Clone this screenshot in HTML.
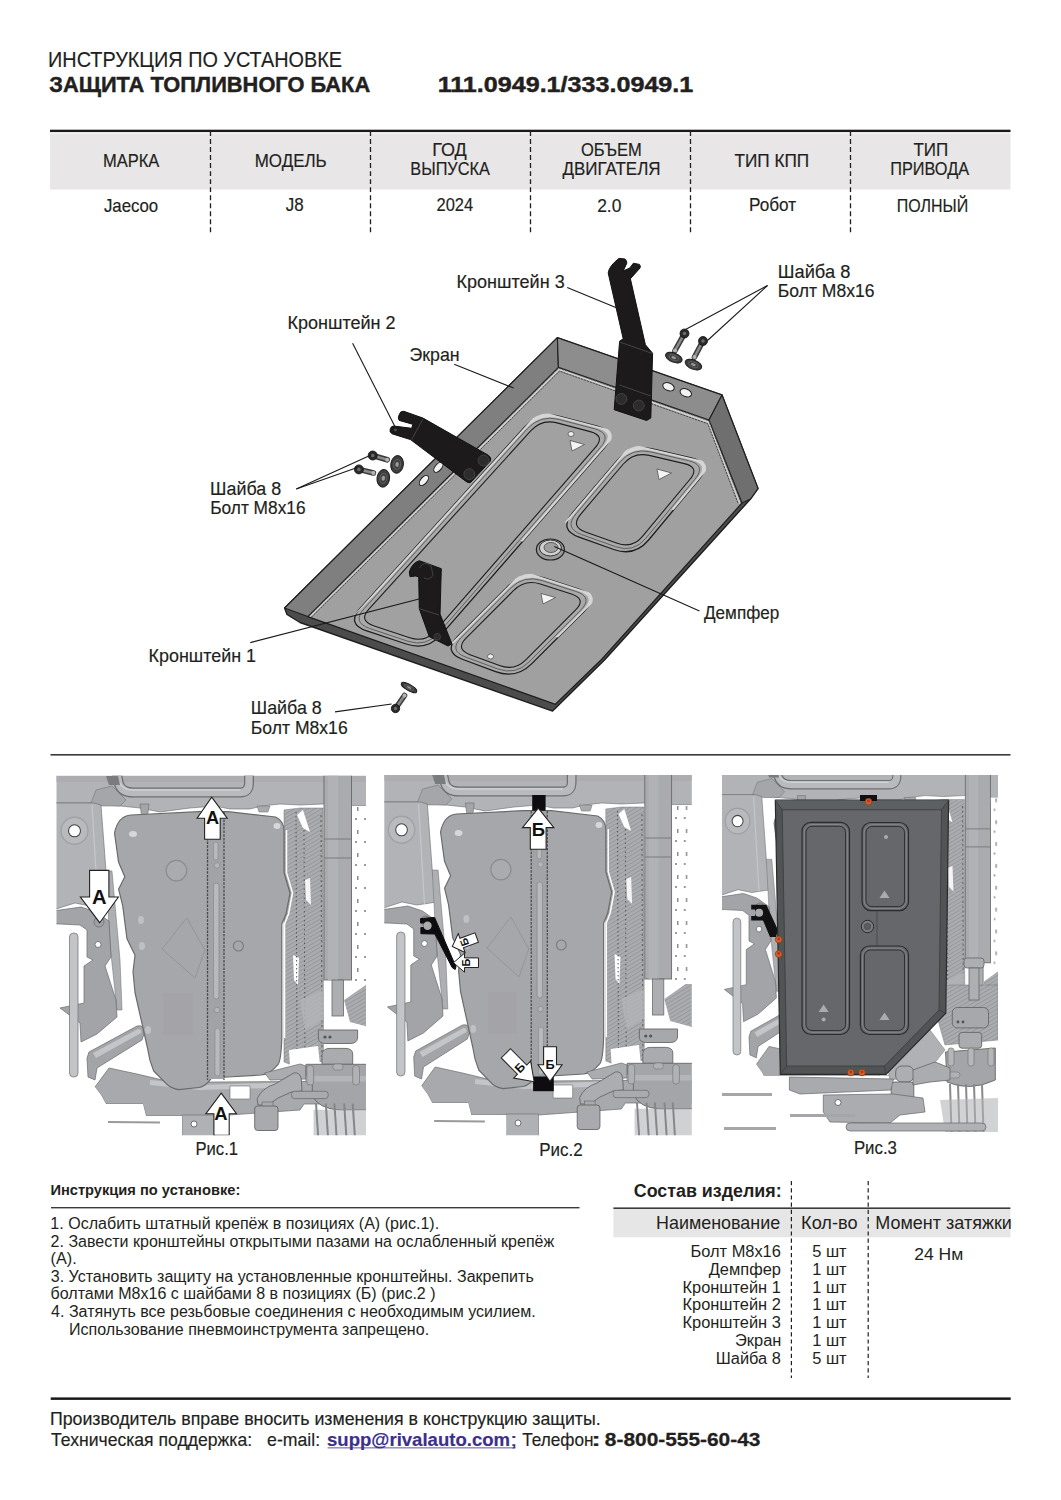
<!DOCTYPE html>
<html><head><meta charset="utf-8"><style>
html,body{margin:0;padding:0;background:#fff;}
body{width:1061px;height:1500px;position:relative;overflow:hidden;font-family:"Liberation Sans",sans-serif;}
#g{position:absolute;left:0;top:0;}
.t span{position:absolute;white-space:pre;line-height:1;transform-origin:0 0;}
</style></head><body>
<svg id="g" width="1061" height="1500" viewBox="0 0 1061 1500">
<!-- header table -->
<rect x="50" y="133.5" width="960.5" height="56" fill="#e8e6e7"/>
<rect x="50" y="129.7" width="960.5" height="2.4" fill="#1a1818"/>
<g stroke="#231f20" stroke-width="1.3" stroke-dasharray="4.9 3.13" stroke-dashoffset="0">
<line x1="210.5" y1="131" x2="210.5" y2="233"/>
<line x1="370.5" y1="131" x2="370.5" y2="233"/>
<line x1="530.5" y1="131" x2="530.5" y2="233"/>
<line x1="690.5" y1="131" x2="690.5" y2="233"/>
<line x1="850.5" y1="131" x2="850.5" y2="233"/>
</g>
<!-- separator -->
<rect x="50.5" y="754" width="960" height="1.6" fill="#3a3a3a"/>
<!-- instructions -->
<rect x="51" y="1207" width="528.5" height="1.4" fill="#3a3a3a"/>
<!-- composition table -->
<rect x="613.4" y="1209" width="397" height="28.3" fill="#e6e6e6"/>
<rect x="613.4" y="1207.4" width="397" height="1.6" fill="#3a3a3a"/>
<g stroke="#231f20" stroke-width="1.2" stroke-dasharray="4.2 3">
<line x1="791.4" y1="1181" x2="791.4" y2="1378"/>
<line x1="868.2" y1="1181" x2="868.2" y2="1378"/>
</g>
<!-- footer -->
<rect x="50.7" y="1397.4" width="960" height="2.5" fill="#1a1818"/>
<rect x="327.6" y="1447.3" width="188" height="1.1" fill="#6f64a8"/>

<polygon points="557.4,337.7 722.0,395.0 758.0,488.5 750.5,499.0 604.5,660.0 552.6,711.1 300.0,622.5 287.0,614.5 284.6,608.0" fill="#4c4c4c" stroke="#1e1e1e" stroke-width="1.4" stroke-linejoin="round"/>
<polygon points="558.4,367.3 709.0,420.0 742.0,503.0 602.0,659.0 555.4,704.3 307.8,616.6 284.6,608.0 557.4,337.7" fill="#a0a0a1"/>
<polygon points="284.6,608.0 557.4,337.7 558.4,367.3 307.8,616.6" fill="#7f7f7f" stroke="#1e1e1e" stroke-width="1.1" stroke-linejoin="round"/>
<polygon points="557.4,337.7 722.0,395.0 709.0,420.0 558.4,367.3" fill="#8d8d8d" stroke="#1e1e1e" stroke-width="1.1" stroke-linejoin="round"/>
<polygon points="722.0,395.0 758.0,488.5 750.5,499.0 742.0,503.0 709.0,420.0" fill="#6f6f6f" stroke="#1e1e1e" stroke-width="1.1" stroke-linejoin="round"/>
<polyline points="310.0,616.8 559.1,369.5 708.3,422.2 739.8,503.4" fill="none" stroke="#d2d2d2" stroke-width="1.5"/>
<polyline points="311.6,617.0 559.5,371.1 707.9,423.8 738.2,503.8" fill="none" stroke="#3a3a3a" stroke-width="0.9" stroke-dasharray="2.2 0.9"/>
<polyline points="308.4,616.7 558.6,367.9 708.8,420.6 741.4,503.1" fill="none" stroke="#3a3a3a" stroke-width="0.8" stroke-dasharray="2.2 0.9"/>
<polyline points="307.8,616.6 555.4,704.3 602.0,659.0 742.0,503.0" fill="none" stroke="#1e1e1e" stroke-width="1.2"/>
<path d="M560.6,416.6 L597.1,426.1 Q618.4,431.7 603.9,448.3 L441.5,634.4 Q427.1,651.0 406.2,644.0 L366.8,630.9 Q345.9,623.9 360.7,607.6 L524.5,427.3 Q539.3,411.0 560.6,416.6 Z" fill="#a9a9a9" stroke="#1e1e1e" stroke-width="1.3"/>
<path d="M560.6,416.6 L597.1,426.1 Q618.4,431.7 603.9,448.3 L441.5,634.4 Q427.1,651.0 406.2,644.0 L366.8,630.9 Q345.9,623.9 360.7,607.6 L524.5,427.3 Q539.3,411.0 560.6,416.6 Z" fill="none" stroke="#d5d5d5" stroke-width="4" stroke-dasharray="0" clip-path="url(#hl10)"/>
<clipPath id="hl10"><polygon points="345.9,623.9 539.3,411.0 618.4,431.7 522.7,541.4 483.2,531.0 447.6,522.5"/></clipPath>
<path d="M557.1,422.9 L590.2,431.6 Q605.7,435.6 595.2,447.7 L435.4,630.8 Q424.9,642.9 409.7,637.8 L373.5,625.7 Q358.3,620.7 369.1,608.8 L530.9,430.7 Q541.7,418.8 557.1,422.9 Z" fill="#a1a1a1" stroke="#1e1e1e" stroke-width="1.1"/>
<path d="M558.8,419.4 L594.2,428.7 Q612.6,433.5 600.1,447.8 L438.6,633.0 Q426.1,647.3 408.0,641.3 L369.6,628.4 Q351.6,622.4 364.4,608.4 L527.6,428.6 Q540.4,414.6 558.8,419.4 Z" fill="none" stroke="#4a4a4a" stroke-width="0.8"/>
<polygon points="570.0,440.5 584.5,444.5 572.0,451.0" fill="#f4f4f4" stroke="#444" stroke-width="0.7"/>
<ellipse cx="571" cy="434" rx="3" ry="2.5" fill="#eee" stroke="#444" stroke-width="0.7"/>
<path d="M652.5,449.0 L691.2,458.0 Q712.6,463.0 698.6,479.9 L648.6,540.0 Q634.5,556.9 613.8,549.5 L579.1,537.1 Q558.4,529.7 572.6,512.9 L616.8,460.8 Q631.1,444.0 652.5,449.0 Z" fill="#a9a9a9" stroke="#1e1e1e" stroke-width="1.3"/>
<path d="M652.5,449.0 L691.2,458.0 Q712.6,463.0 698.6,479.9 L648.6,540.0 Q634.5,556.9 613.8,549.5 L579.1,537.1 Q558.4,529.7 572.6,512.9 L616.8,460.8 Q631.1,444.0 652.5,449.0 Z" fill="none" stroke="#d5d5d5" stroke-width="4" stroke-dasharray="0" clip-path="url(#hl17)"/>
<clipPath id="hl17"><polygon points="558.4,529.7 631.1,444.0 712.6,463.0 673.6,509.9 632.8,500.5 599.7,491.9"/></clipPath>
<path d="M649.2,455.4 L684.4,463.6 Q700.0,467.2 689.8,479.5 L642.5,536.3 Q632.3,548.6 617.2,543.3 L585.4,531.9 Q570.3,526.5 580.6,514.3 L623.3,464.0 Q633.6,451.8 649.2,455.4 Z" fill="#a1a1a1" stroke="#1e1e1e" stroke-width="1.1"/>
<path d="M650.7,451.9 L688.3,460.6 Q706.9,464.9 694.7,479.5 L645.6,538.5 Q633.5,553.1 615.6,546.7 L581.7,534.6 Q563.8,528.2 576.1,513.7 L619.9,462.1 Q632.2,447.6 650.7,451.9 Z" fill="none" stroke="#4a4a4a" stroke-width="0.8"/>
<polygon points="657.0,469.0 671.5,473.0 659.0,479.5" fill="#f4f4f4" stroke="#444" stroke-width="0.7"/>
<path d="M544.1,577.8 L578.8,589.0 Q599.7,595.7 584.2,611.3 L531.8,663.6 Q516.3,679.2 495.6,671.6 L463.0,659.5 Q442.3,651.9 457.9,636.3 L507.6,586.7 Q523.1,571.1 544.1,577.8 Z" fill="#a9a9a9" stroke="#1e1e1e" stroke-width="1.3"/>
<path d="M544.1,577.8 L578.8,589.0 Q599.7,595.7 584.2,611.3 L531.8,663.6 Q516.3,679.2 495.6,671.6 L463.0,659.5 Q442.3,651.9 457.9,636.3 L507.6,586.7 Q523.1,571.1 544.1,577.8 Z" fill="none" stroke="#d5d5d5" stroke-width="4" stroke-dasharray="0" clip-path="url(#hl23)"/>
<clipPath id="hl23"><polygon points="442.3,651.9 523.1,571.1 599.7,595.7 558.0,637.5 519.7,625.2 487.7,616.5"/></clipPath>
<path d="M540.3,584.0 L571.4,594.0 Q586.7,598.9 575.4,610.2 L525.8,659.8 Q514.5,671.1 499.5,665.5 L470.0,654.7 Q455.0,649.1 466.3,637.8 L513.7,590.4 Q525.1,579.1 540.3,584.0 Z" fill="#a1a1a1" stroke="#1e1e1e" stroke-width="1.1"/>
<path d="M542.1,580.6 L575.7,591.4 Q593.8,597.2 580.3,610.6 L528.9,662.1 Q515.5,675.5 497.6,668.9 L466.0,657.2 Q448.1,650.6 461.6,637.2 L510.6,588.2 Q524.0,574.7 542.1,580.6 Z" fill="none" stroke="#4a4a4a" stroke-width="0.8"/>
<polygon points="541.0,593.5 555.5,597.5 543.0,604.0" fill="#f4f4f4" stroke="#444" stroke-width="0.7"/>
<ellipse cx="490.5" cy="656.5" rx="3" ry="2.5" fill="#eee" stroke="#444" stroke-width="0.7"/>
<ellipse cx="550.4" cy="549.5" rx="14" ry="10.5" fill="#9a9a9a" stroke="#222" stroke-width="1.2"/>
<ellipse cx="550.4" cy="548" rx="11" ry="8" fill="#cfcfcf" stroke="#333" stroke-width="1"/>
<ellipse cx="551" cy="547.5" rx="7" ry="5" fill="#9f9f9f" stroke="#444" stroke-width="0.8"/>
<ellipse cx="668.5" cy="386.8" rx="6" ry="3.8" transform="rotate(22 668.5 386.8)" fill="#f2f2f2" stroke="#222" stroke-width="1"/>
<ellipse cx="685.8" cy="392.8" rx="6" ry="3.8" transform="rotate(22 685.8 392.8)" fill="#f2f2f2" stroke="#222" stroke-width="1"/>
<ellipse cx="423.9" cy="480.5" rx="3.2" ry="6" transform="rotate(40 423.9 480.5)" fill="#f2f2f2" stroke="#222" stroke-width="1"/>
<ellipse cx="438.4" cy="467.3" rx="3.2" ry="6" transform="rotate(40 438.4 467.3)" fill="#f2f2f2" stroke="#222" stroke-width="1"/>
<path d="M608.2,273 Q609,266 619,258.4 L625,259 Q627,261 626.8,263.2 L623.2,271 L629.8,268 L633.4,263.2 L639.4,264.4 Q641,266 640,268 L630.4,278.8 L645.4,344.8 L652.6,353.2 L650.8,418 L646.6,420.5 L614.2,409.7 L619.6,341.2 L623.2,338.8 Z" fill="#1c1a1a" stroke="#111" stroke-width="1" stroke-linejoin="round"/>
<line x1="619.6" y1="342" x2="652.6" y2="353.5" stroke="#4a4a4a" stroke-width="0.9"/>
<line x1="619.6" y1="385" x2="650.8" y2="396" stroke="#4a4a4a" stroke-width="0.9"/>
<circle cx="621.4" cy="398.9" r="5.4" fill="#2c2c2c" stroke="#444" stroke-width="1"/>
<circle cx="638.8" cy="405.5" r="5.4" fill="#2c2c2c" stroke="#444" stroke-width="1"/>
<path d="M399.2,414.7 Q400,411 403.8,411.3 L423,418.1 L488.6,455.4 Q492,458 490.3,461.1 L470.5,482.6 Q468,483 466,481.4 L410.5,439.6 L392.4,433.9 Q389,432 390.2,429.4 Q391,426 393.6,426 L411.7,428.3 L412.8,424.3 L399.2,420.4 Q397.5,418 399.2,414.7 Z" fill="#1c1a1a" stroke="#111" stroke-width="1" stroke-linejoin="round"/>
<line x1="423" y1="418.7" x2="411.7" y2="439.6" stroke="#4a4a4a" stroke-width="0.9"/>
<circle cx="483.5" cy="460.5" r="5.4" fill="#2c2c2c" stroke="#444" stroke-width="1"/>
<circle cx="469.3" cy="474.1" r="5.4" fill="#2c2c2c" stroke="#444" stroke-width="1"/>
<circle cx="395.5" cy="430" r="1.3" fill="#555"/>
<path d="M409.3,572 Q412,563 419.3,560.7 L441.3,568.7 L440,614 L452,644 L448,646 L429.3,636.7 L419.3,608.7 L418.7,576.7 L415.3,576 L410,576.7 Z" fill="#1c1a1a" stroke="#111" stroke-width="1" stroke-linejoin="round"/>
<line x1="419.3" y1="608.7" x2="439" y2="615" stroke="#4a4a4a" stroke-width="0.9"/>
<path d="M419.5,568 Q424,560 431,566 L433,575 Q430,581 424,578" fill="none" stroke="#4a4a4a" stroke-width="0.8"/>
<circle cx="437.3" cy="636.7" r="3.3" fill="#2c2c2c" stroke="#444" stroke-width="0.8"/>
<line x1="684.5" y1="333.5" x2="675" y2="350.5" stroke="#3a3a3a" stroke-width="5.6" stroke-linecap="round"/>
<line x1="684.5" y1="333.5" x2="675" y2="350.5" stroke="#8a8a8a" stroke-width="2.6" stroke-linecap="round" stroke-dasharray="1.3 1.1"/>
<circle cx="675" cy="350.5" r="2" fill="#b5b5b5"/>
<circle cx="684.5" cy="333.5" r="4.5" fill="#2a2a2a" stroke="#111" stroke-width="0.8"/>
<circle cx="684.5" cy="333.5" r="1.8" fill="#6a6a6a"/>
<line x1="703" y1="341" x2="694.5" y2="357" stroke="#3a3a3a" stroke-width="5.6" stroke-linecap="round"/>
<line x1="703" y1="341" x2="694.5" y2="357" stroke="#8a8a8a" stroke-width="2.6" stroke-linecap="round" stroke-dasharray="1.3 1.1"/>
<circle cx="694.5" cy="357" r="2" fill="#b5b5b5"/>
<circle cx="703" cy="341" r="4.5" fill="#2a2a2a" stroke="#111" stroke-width="0.8"/>
<circle cx="703" cy="341" r="1.8" fill="#6a6a6a"/>
<ellipse cx="673.8" cy="357.6" rx="8.8" ry="4.6" transform="rotate(22 673.8 357.6)" fill="#3e3e3e" stroke="#151515" stroke-width="0.9"/>
<ellipse cx="673.8" cy="357.6" rx="4.840000000000001" ry="2.53" transform="rotate(22 673.8 357.6)" fill="none" stroke="#5e5e5e" stroke-width="1"/>
<ellipse cx="673.8" cy="357.6" rx="2.4640000000000004" ry="1.288" transform="rotate(22 673.8 357.6)" fill="#9a9a9a"/>
<ellipse cx="693.4" cy="364.6" rx="8.8" ry="4.6" transform="rotate(22 693.4 364.6)" fill="#3e3e3e" stroke="#151515" stroke-width="0.9"/>
<ellipse cx="693.4" cy="364.6" rx="4.840000000000001" ry="2.53" transform="rotate(22 693.4 364.6)" fill="none" stroke="#5e5e5e" stroke-width="1"/>
<ellipse cx="693.4" cy="364.6" rx="2.4640000000000004" ry="1.288" transform="rotate(22 693.4 364.6)" fill="#9a9a9a"/>
<line x1="372.7" y1="455.5" x2="387.2" y2="459.8" stroke="#3a3a3a" stroke-width="5.6" stroke-linecap="round"/>
<line x1="372.7" y1="455.5" x2="387.2" y2="459.8" stroke="#8a8a8a" stroke-width="2.6" stroke-linecap="round" stroke-dasharray="1.3 1.1"/>
<circle cx="387.2" cy="459.8" r="2" fill="#b5b5b5"/>
<circle cx="372.7" cy="455.5" r="4.5" fill="#2a2a2a" stroke="#111" stroke-width="0.8"/>
<circle cx="372.7" cy="455.5" r="1.8" fill="#6a6a6a"/>
<line x1="358.9" y1="469.4" x2="373.4" y2="473" stroke="#3a3a3a" stroke-width="5.6" stroke-linecap="round"/>
<line x1="358.9" y1="469.4" x2="373.4" y2="473" stroke="#8a8a8a" stroke-width="2.6" stroke-linecap="round" stroke-dasharray="1.3 1.1"/>
<circle cx="373.4" cy="473" r="2" fill="#b5b5b5"/>
<circle cx="358.9" cy="469.4" r="4.5" fill="#2a2a2a" stroke="#111" stroke-width="0.8"/>
<circle cx="358.9" cy="469.4" r="1.8" fill="#6a6a6a"/>
<ellipse cx="397.1" cy="464.4" rx="6.3" ry="8.9" transform="rotate(8 397.1 464.4)" fill="#3e3e3e" stroke="#151515" stroke-width="0.9"/>
<ellipse cx="397.1" cy="464.4" rx="3.4650000000000003" ry="4.8950000000000005" transform="rotate(8 397.1 464.4)" fill="none" stroke="#5e5e5e" stroke-width="1"/>
<ellipse cx="397.1" cy="464.4" rx="1.764" ry="2.4920000000000004" transform="rotate(8 397.1 464.4)" fill="#9a9a9a"/>
<ellipse cx="383.3" cy="478.3" rx="6.3" ry="8.9" transform="rotate(8 383.3 478.3)" fill="#3e3e3e" stroke="#151515" stroke-width="0.9"/>
<ellipse cx="383.3" cy="478.3" rx="3.4650000000000003" ry="4.8950000000000005" transform="rotate(8 383.3 478.3)" fill="none" stroke="#5e5e5e" stroke-width="1"/>
<ellipse cx="383.3" cy="478.3" rx="1.764" ry="2.4920000000000004" transform="rotate(8 383.3 478.3)" fill="#9a9a9a"/>
<line x1="395.5" y1="708.5" x2="404.5" y2="695.5" stroke="#3a3a3a" stroke-width="5.6" stroke-linecap="round"/>
<line x1="395.5" y1="708.5" x2="404.5" y2="695.5" stroke="#8a8a8a" stroke-width="2.6" stroke-linecap="round" stroke-dasharray="1.3 1.1"/>
<circle cx="404.5" cy="695.5" r="2" fill="#b5b5b5"/>
<circle cx="395.5" cy="708.5" r="4.2" fill="#2a2a2a" stroke="#111" stroke-width="0.8"/>
<circle cx="395.5" cy="708.5" r="1.6800000000000002" fill="#6a6a6a"/>
<ellipse cx="409" cy="687.5" rx="8.8" ry="3" transform="rotate(30 409 687.5)" fill="#3e3e3e" stroke="#151515" stroke-width="0.9"/>
<ellipse cx="409" cy="687.5" rx="4.840000000000001" ry="1.6500000000000001" transform="rotate(30 409 687.5)" fill="none" stroke="#5e5e5e" stroke-width="1"/>
<ellipse cx="409" cy="687.5" rx="2.4640000000000004" ry="0.8400000000000001" transform="rotate(30 409 687.5)" fill="#9a9a9a"/>
<line x1="567.2" y1="287.4" x2="617" y2="308" stroke="#1a1a1a" stroke-width="1.1"/>
<line x1="767.5" y1="285.5" x2="686" y2="329.2" stroke="#1a1a1a" stroke-width="1.1"/>
<line x1="767.5" y1="285.5" x2="707.5" y2="340.5" stroke="#1a1a1a" stroke-width="1.1"/>
<line x1="352.6" y1="343.2" x2="394.8" y2="426.3" stroke="#1a1a1a" stroke-width="1.1"/>
<line x1="454.2" y1="364.3" x2="513.6" y2="388.1" stroke="#1a1a1a" stroke-width="1.1"/>
<line x1="296.3" y1="489" x2="371" y2="455" stroke="#1a1a1a" stroke-width="1.1"/>
<line x1="296.3" y1="489" x2="357.4" y2="467.5" stroke="#1a1a1a" stroke-width="1.1"/>
<line x1="699.5" y1="611" x2="554.3" y2="546.4" stroke="#1a1a1a" stroke-width="1.1"/>
<line x1="250.3" y1="642.6" x2="419" y2="599" stroke="#1a1a1a" stroke-width="1.1"/>
<line x1="335" y1="711.9" x2="391.6" y2="704" stroke="#1a1a1a" stroke-width="1.1"/>
<defs>
<pattern id="stri" width="3.5" height="3.5" patternUnits="userSpaceOnUse" patternTransform="rotate(60)">
<rect width="3.5" height="3.5" fill="#abacb0"/><rect width="1.0" height="3.5" fill="#96979b"/></pattern>
<pattern id="spk" width="9" height="23" patternUnits="userSpaceOnUse">
<rect width="9" height="23" fill="#ffffff"/><rect x="6" y="2" width="1.5" height="4" fill="#8a8a8a"/><rect x="4" y="13" width="2" height="2" fill="#9a9a9a"/></pattern>
<clipPath id="c1"><rect x="56.5" y="775.8" width="309.5" height="359.5"/></clipPath>
<clipPath id="c2"><rect x="384.3" y="775" width="307.5" height="360.3"/></clipPath>
<clipPath id="c3"><rect x="722" y="775" width="276" height="360.5"/></clipPath>
<g id="scene"><rect x="40" y="760" width="340" height="400" fill="#ffffff"/>
<polygon points="40.0,770.0 380.0,770.0 380.0,806.0 366.0,806.0 352.0,806.0 340.0,803.0 323.0,804.0 300.0,805.0 280.0,804.0 262.0,806.0 250.0,809.0 230.0,809.0 215.0,806.0 190.0,808.0 160.0,812.0 140.0,808.0 120.0,806.0 102.0,805.0 94.0,803.0 40.0,803.0" fill="#b2b3b7" stroke="#6a6a6a" stroke-width="0.6" stroke-linejoin="round" />
<rect x="40" y="776" width="340" height="6" fill="#a9aaae" opacity="0.7"/>
<polygon points="91.0,803.0 96.0,790.0 112.0,786.0 126.0,800.0 120.0,806.0 102.0,806.0" fill="#a5a6aa" stroke="#6a6a6a" stroke-width="0.5" stroke-linejoin="round" />
<path d="M116,770 L119,784 Q122,792.5 133,792.5 L240,792.5 Q249,792.5 249,783 L249,770" fill="none" stroke="#6e6e6e" stroke-width="10" stroke-linejoin="round" />
<path d="M116,770 L119,784 Q122,792.5 133,792.5 L240,792.5 Q249,792.5 249,783 L249,770" fill="none" stroke="#b9babe" stroke-width="7.5" stroke-linejoin="round" />
<path d="M119,782 Q123,790 133,790 L240,790" fill="none" stroke="#d0d1d4" stroke-width="1.5" stroke-linejoin="round" />
<polygon points="106.0,776.0 118.0,776.0 120.0,785.0 109.0,785.0" fill="#7a7b7e" stroke="#6a6a6a" stroke-width="0" stroke-linejoin="round" />
<polygon points="140.0,804.0 149.0,804.0 148.0,813.0 146.0,818.0 142.0,817.0 141.0,812.0" fill="#a4a5a9" stroke="#6a6a6a" stroke-width="0.6" stroke-linejoin="round" />
<polygon points="257.0,806.0 270.0,806.0 268.0,812.0 259.0,812.0" fill="#a9aaae" stroke="#6a6a6a" stroke-width="0.5" stroke-linejoin="round" />
<polygon points="40.0,803.0 94.0,803.0 101.0,805.0 106.0,871.0 111.0,903.0 90.0,906.0 75.0,903.0 56.0,909.0 40.0,909.0" fill="#b2b3b7" stroke="#6a6a6a" stroke-width="0.6" stroke-linejoin="round" />
<circle cx="74.5" cy="830.8" r="13.5" fill="#b9babe" stroke="#a0a1a5" stroke-width="1.4"/>
<circle cx="74.5" cy="830.8" r="6" fill="#ffffff" stroke="#444" stroke-width="1.1"/>
<line x1="92" y1="805" x2="98" y2="905" stroke="#c6c7ca" stroke-width="1.2"/>
<polygon points="106.0,871.0 112.0,871.0 120.0,960.0 122.0,1010.0 117.0,1010.0 110.0,945.0" fill="#aeafb3" stroke="#6a6a6a" stroke-width="0.5" stroke-linejoin="round" />
<polygon points="40.0,912.0 60.0,910.0 81.0,907.0 96.0,912.0 109.0,921.0 111.0,957.0 105.0,966.0 116.0,1000.0 117.0,1017.0 97.0,1034.0 81.0,1042.0 80.0,1023.0 60.0,1008.0 84.0,1003.0 84.0,966.0 93.0,960.0 87.0,957.0 87.0,930.0 80.0,925.0 60.0,924.0 40.0,924.0" fill="#a3a4a8" stroke="#6a6a6a" stroke-width="0.7" stroke-linejoin="round" />
<circle cx="98" cy="944.5" r="3" fill="#fff" stroke="#555" stroke-width="0.7"/>
<circle cx="99" cy="922" r="5" fill="#a0a1a5" stroke="#666" stroke-width="0.7"/>
<rect x="69.5" y="933" width="8.5" height="144" rx="4" fill="#c3c4c7" stroke="#7a7a7a" stroke-width="0.8"/>
<path d="M89,1052 L137,1026 Q145,1024 144,1034 L142,1040 L97,1068 L95,1080 L88,1077 L87,1058 Z" fill="#a3a4a8" stroke="#6a6a6a" stroke-width="0.7" stroke-linejoin="round" />
<path d="M93,1053 L138,1029 Q142,1029 141,1033 L96,1058 Z" fill="#c4c5c8" stroke="#6a6a6a" stroke-width="0" stroke-linejoin="round" />
<polygon points="95.0,1087.0 109.0,1068.0 137.0,1074.0 171.0,1082.0 215.0,1082.0 380.0,1081.0 380.0,1104.0 304.0,1104.0 300.0,1110.0 215.0,1116.0 146.0,1116.0 143.0,1104.0 106.0,1104.0 101.0,1095.0" fill="#a8a9ad" stroke="#6a6a6a" stroke-width="0.7" stroke-linejoin="round" />
<polygon points="150.0,1080.0 200.0,1085.0 300.0,1082.0 300.0,1087.0 200.0,1090.0 150.0,1085.0" fill="#c4c5c8" stroke="#6a6a6a" stroke-width="0" stroke-linejoin="round" />
<line x1="108" y1="1122" x2="160" y2="1122.5" stroke="#9a9a9a" stroke-width="2"/>
<polygon points="182.0,1115.0 215.0,1115.0 215.0,1140.0 182.0,1140.0" fill="#b0b1b5" stroke="#6a6a6a" stroke-width="0.6" stroke-linejoin="round" />
<circle cx="194" cy="1124" r="3" fill="#fff" stroke="#555" stroke-width="0.8"/>
<polygon points="230.0,1086.0 250.0,1086.0 250.0,1099.0 230.0,1099.0" fill="#fff" stroke="#6a6a6a" stroke-width="0.6" stroke-linejoin="round" />
<polygon points="284.0,810.0 300.0,808.0 323.0,808.0 323.5,1062.0 306.0,1060.0 292.0,1065.0 284.0,1062.0" fill="url(#stri)" stroke="#777" stroke-width="0.5" stroke-linejoin="round" />
<polygon points="293.0,955.0 299.0,958.0 298.0,985.0 294.0,980.0" fill="#fff" stroke="#6a6a6a" stroke-width="0" stroke-linejoin="round" />
<polygon points="297.0,815.0 303.0,810.0 310.0,832.0 303.0,828.0" fill="#fff" stroke="#6a6a6a" stroke-width="0" stroke-linejoin="round" />
<polygon points="305.0,880.0 310.0,878.0 311.0,905.0 306.0,900.0" fill="#f4f4f4" stroke="#6a6a6a" stroke-width="0" stroke-linejoin="round" />
<path d="M114.5,833 Q118,816 131,815 L199,811.7 L228,811.7 L275.6,817 Q284,821 284,831 L284,872.6 L290,893 L286,914 L281.8,924 L281.8,1038 Q281,1062 277.7,1064.8 Q270,1074 261,1075 L228,1077 L211.6,1078.2 Q205,1087 199,1087.5 L178.5,1089.6 Q170,1088 166,1083.4 L153.7,1071 Q149,1060 147.5,1048 L135,992.5 L133,971.8 L135,955.3 L127,938.8 L122.7,905.7 L118.6,889.2 L124.8,876.8 L118.6,862.3 Z" fill="#a6a7ab" stroke="#6a6a6a" stroke-width="1.2" stroke-linejoin="round" />
<path d="M118,862 L124.8,876.8 L118.6,889.2 L122.7,905.7 L127,938.8 L135,955.3" fill="none" stroke="#ffffff" stroke-width="1.6" stroke-linejoin="round" transform="translate(-2.5,0)"/>
<ellipse cx="133" cy="834" rx="4" ry="3" fill="#d6d7da"/>
<ellipse cx="277" cy="826" rx="3.5" ry="3" fill="#d6d7da"/>
<ellipse cx="141" cy="920" rx="3" ry="4" fill="#bfc0c3"/>
<ellipse cx="142" cy="946" rx="3" ry="4" fill="#bfc0c3"/>
<ellipse cx="148" cy="1030" rx="3" ry="4" fill="#bfc0c3"/>
<rect x="207.5" y="812" width="16.5" height="267" fill="#a2a3a7"/>
<line x1="207.5" y1="812" x2="207.5" y2="1080" stroke="#4a4a4a" stroke-width="1.3" stroke-dasharray="2.5 1.2"/>
<line x1="224" y1="812" x2="224" y2="1080" stroke="#4a4a4a" stroke-width="1.3" stroke-dasharray="2.5 1.2"/>
<rect x="213.5" y="883" width="5.5" height="116" rx="2.7" fill="#b8b9bc" stroke="#85868a" stroke-width="0.7"/>
<rect x="213.5" y="842" width="4.5" height="18" rx="2" fill="#b8b9bc" stroke="#85868a" stroke-width="0.6"/>
<rect x="215" y="1028" width="5" height="48" rx="2.5" fill="#b8b9bc" stroke="#85868a" stroke-width="0.6"/>
<circle cx="217" cy="865.4" r="2.8" fill="#b5b6b9" stroke="#808185" stroke-width="0.6"/>
<circle cx="217" cy="1010" r="2.8" fill="#b5b6b9" stroke="#808185" stroke-width="0.6"/>
<circle cx="176.4" cy="870.6" r="10.3" fill="#aaabaf" stroke="#8a8b8f" stroke-width="1.2"/>
<circle cx="238.4" cy="946" r="5" fill="none" stroke="#77787c" stroke-width="1.1"/>
<path d="M162,949 L186.8,918 L205,950 L195,978 Z" fill="none" stroke="#949599" stroke-width="1"/>
<rect x="163" y="993" width="30" height="42" fill="#a2a3a7" opacity="0.8"/>
<path d="M284.5,830 L284.5,872.6 L290.5,893 L286.5,914 L282.5,924 L282.5,1038" fill="none" stroke="#ffffff" stroke-width="1.5" stroke-linejoin="round" transform="translate(2,0)"/>
<line x1="296" y1="812" x2="297" y2="1060" stroke="#555" stroke-width="1" stroke-dasharray="1.5 2.5"/>
<line x1="304" y1="830" x2="305" y2="1060" stroke="#555" stroke-width="1" stroke-dasharray="1.5 3"/>
<line x1="321" y1="815" x2="322" y2="1060" stroke="#666" stroke-width="1.2" stroke-dasharray="2 3"/>
<rect x="324" y="770" width="27.5" height="210" fill="#aaabaf" stroke="#686868" stroke-width="0.9"/>
<rect x="328" y="770" width="10" height="210" fill="#b1b2b6"/>
<line x1="324" y1="839" x2="351.5" y2="839" stroke="#7a7a7a" stroke-width="1"/>
<line x1="324" y1="858" x2="351.5" y2="858" stroke="#7a7a7a" stroke-width="1"/>
<rect x="332" y="980" width="11.5" height="36" fill="#adaeb2" stroke="#686868" stroke-width="0.8"/>
<polygon points="352.0,806.0 380.0,806.0 380.0,1020.0 356.0,1012.0 352.0,990.0 355.0,930.0" fill="url(#spk)" stroke="#6a6a6a" stroke-width="0" stroke-linejoin="round" />
<polygon points="344.0,1000.0 366.0,985.0 380.0,985.0 380.0,1030.0 350.0,1022.0" fill="url(#stri)" stroke="#6a6a6a" stroke-width="0" stroke-linejoin="round" />
<polygon points="300.0,1000.0 323.0,990.0 323.0,1020.0 305.0,1030.0" fill="#b3b4b7" stroke="#6a6a6a" stroke-width="0" stroke-linejoin="round" opacity="0.8"/>
<path d="M318.4,1030 L357.6,1030 L357.6,1038 Q357,1043.5 350,1043.5 L326,1043.5 Q318.4,1043.5 318.4,1038 Z" fill="#a7a8ac" stroke="#666" stroke-width="0.9"/>
<circle cx="325" cy="1037" r="1.6" fill="#555"/><circle cx="330" cy="1037" r="1.6" fill="#555"/>
<polygon points="289.0,1050.0 318.0,1046.0 320.0,1065.0 290.0,1066.0" fill="#ffffff" stroke="#6a6a6a" stroke-width="0" stroke-linejoin="round" />
<path d="M322,1064.3 L322,1054 Q323,1048.4 330,1048.4 L345,1048.4 Q352.7,1048.4 352.7,1054 L352.7,1064.3 Z" fill="#aaabaf" stroke="#666" stroke-width="0.9"/>
<polygon points="264.5,1073.0 300.0,1064.0 306.0,1066.0 306.0,1079.0 270.0,1080.0" fill="#abacb0" stroke="#6a6a6a" stroke-width="0.7" stroke-linejoin="round" />
<path d="M306,1064.3 L380,1064.3 L380,1109.7 L340,1110 Q318,1109 312.3,1095 L312.3,1081.5 L306,1081.5 Z" fill="#a4a5a9" stroke="#666" stroke-width="0.9"/>
<rect x="306" y="1076" width="74" height="5.5" fill="#b4b5b8"/>
<rect x="306.8" y="1065.5" width="6.8" height="19.5" rx="3" fill="#b0b1b5" stroke="#777" stroke-width="0.7"/>
<rect x="352.7" y="1065.5" width="6.8" height="19.5" rx="3" fill="#b0b1b5" stroke="#777" stroke-width="0.7"/>
<rect x="333" y="1064" width="10" height="6" rx="2.5" fill="#b0b1b5" stroke="#777" stroke-width="0.6"/>
<polygon points="313.5,1109.7 380.0,1109.7 380.0,1140.0 313.5,1140.0" fill="#bcbdc0" stroke="#6a6a6a" stroke-width="0" stroke-linejoin="round" opacity="0.7"/>
<line x1="316" y1="1103.5" x2="318.4" y2="1140" stroke="#85868a" stroke-width="2"/>
<line x1="325.8" y1="1103.5" x2="328.2" y2="1140" stroke="#85868a" stroke-width="2"/>
<line x1="334.4" y1="1103.5" x2="336.79999999999995" y2="1140" stroke="#85868a" stroke-width="2"/>
<line x1="344.2" y1="1103.5" x2="346.59999999999997" y2="1140" stroke="#85868a" stroke-width="2"/>
<line x1="352.7" y1="1103.5" x2="355.09999999999997" y2="1140" stroke="#85868a" stroke-width="2"/>
<path d="M257.2,1098.6 Q262,1088 275,1084 L294,1072.9 Q300,1072 301.3,1079 L302,1091 L291.5,1092 L278,1098 L268,1105 L258,1105 Z" fill="#acadb1" stroke="#666" stroke-width="0.9" stroke-linejoin="round" />
<rect x="291.5" y="1091.3" width="36.7" height="7.3" rx="3" fill="#a9aaae" stroke="#666" stroke-width="0.7"/>
<rect x="262" y="1102" width="11" height="5" fill="#a9aaae" stroke="#666" stroke-width="0.6"/>
<rect x="254.7" y="1106" width="23.3" height="24.5" rx="3" fill="#a9aaae" stroke="#666" stroke-width="0.9"/>
<polygon points="40.0,1085.0 95.0,1087.0 101.0,1095.0 106.0,1104.0 143.0,1104.0 146.0,1116.0 182.0,1116.0 182.0,1140.0 40.0,1140.0" fill="#fff" stroke="#6a6a6a" stroke-width="0" stroke-linejoin="round" />
<line x1="108" y1="1122" x2="160" y2="1122.5" stroke="#9a9a9a" stroke-width="2"/></g>
</defs>
<g clip-path="url(#c1)"><use href="#scene"/>
<polygon points="211.7,797.1 227.2,818.3 220.2,818.3 220.2,839.2 204.6,839.2 204.6,818.3 197.1,818.3" fill="#fff" stroke="#222" stroke-width="1.1" stroke-linejoin="miter"/>
<text x="212.5" y="824.4" font-family="Liberation Sans" font-weight="bold" font-size="18.17" text-anchor="middle" fill="#111">А</text>
<polygon points="99.7,922.7 118.4,897.0 108.9,897.0 108.9,870.4 89.6,870.4 89.6,897.0 80.4,897.0" fill="#fff" stroke="#222" stroke-width="1.1" stroke-linejoin="miter"/>
<text x="99.2" y="903.6" font-family="Liberation Sans" font-weight="bold" font-size="20.20" text-anchor="middle" fill="#111">А</text>
<polygon points="221.2,1093.2 236.5,1113.7 229.2,1113.7 229.2,1135.2 213.9,1135.2 213.9,1113.7 205.9,1113.7" fill="#fff" stroke="#222" stroke-width="1.1" stroke-linejoin="miter"/>
<text x="221" y="1120.4" font-family="Liberation Sans" font-weight="bold" font-size="18.46" text-anchor="middle" fill="#111">А</text>
</g>
<g clip-path="url(#c2)"><g transform="translate(383.5,775) scale(0.975,1.0) translate(-56,-776)"><use href="#scene"/></g>
<rect x="532.2" y="795" width="13.4" height="15.7" fill="#0e0c0e"/>
<polygon points="538.3,808.1 553.9,827.6 546.1,827.6 546.1,849.3 530.3,849.3 530.3,827.6 522.5,827.6" fill="#fff" stroke="#222" stroke-width="1.1" stroke-linejoin="miter"/>
<text x="538.4" y="835.9" font-family="Liberation Sans" font-weight="bold" font-size="18.46" text-anchor="middle" fill="#111">Б</text>
<polygon points="420.6,918.6 434.5,917.4 456.0,966.8 455.2,969.5 452.2,967.6 434.9,934.0 420.9,933.7 420.9,927.5 424.0,927.5 424.0,923.0 420.6,923.0" fill="#0e0c0e" stroke="#0e0c0e" stroke-width="1"/>
<circle cx="427.5" cy="925.7" r="4.2" fill="#a9aaad"/>
<g transform="translate(464.5,942) rotate(160)"><polygon points="13.0,0.0 3.0,-10.0 3.0,-5.0 -13.0,-5.0 -13.0,5.0 3.0,5.0 3.0,10.0" fill="#fff" stroke="#222" stroke-width="1.0" stroke-linejoin="miter"/><text x="0" y="0" font-family="Liberation Sans" font-weight="bold" font-size="10.90" text-anchor="middle" fill="#111" transform="rotate(90) translate(0,3.75)">Б</text></g>
<g transform="translate(466,962.7) rotate(180)"><polygon points="12.5,0.0 1.5,-9.5 1.5,-4.8 -12.5,-4.8 -12.5,4.8 1.5,4.8 1.5,9.5" fill="#fff" stroke="#222" stroke-width="1.0" stroke-linejoin="miter"/><text x="0" y="0" font-family="Liberation Sans" font-weight="bold" font-size="10.90" text-anchor="middle" fill="#111" transform="rotate(90) translate(0,3.75)">Б</text></g>
<rect x="533.1" y="1076.5" width="20.7" height="14.7" fill="#0e0c0e"/>
<polygon points="550.0,1081.4 562.1,1064.8 556.5,1064.8 556.5,1046.7 543.6,1046.7 543.6,1064.8 538.0,1064.8" fill="#fff" stroke="#222" stroke-width="1.1" stroke-linejoin="miter"/>
<text x="550" y="1069.3" font-family="Liberation Sans" font-weight="bold" font-size="12.79" text-anchor="middle" fill="#111">Б</text>
<g transform="translate(520,1067.5) rotate(45)"><polygon points="20.0,0.0 3.0,-12.0 3.0,-6.5 -20.0,-6.5 -20.0,6.5 3.0,6.5 3.0,12.0" fill="#fff" stroke="#222" stroke-width="1.0" stroke-linejoin="miter"/><text x="0" y="0" font-family="Liberation Sans" font-weight="bold" font-size="12.35" text-anchor="middle" fill="#111" transform="rotate(-90) translate(0,4.25)">Б</text></g>
</g>
<g clip-path="url(#c3)"><g transform="translate(720.7,769) scale(0.9127,0.95) translate(-56,-776)"><use href="#scene"/></g>
<rect x="722" y="1076" width="276" height="60" fill="#ffffff"/>
<rect x="930" y="992" width="68" height="90" fill="#ffffff"/>
<polygon points="930.0,992.0 950.0,985.0 998.0,985.0 998.0,1040.0 945.0,1045.0" fill="url(#stri)" stroke="#777" stroke-width="0.5"/>
<polygon points="886.0,1060.0 930.0,1030.0 945.0,1050.0 925.0,1075.0 890.0,1080.0" fill="#b0b1b5" stroke="#777" stroke-width="0.5"/>
<rect x="964" y="958" width="20" height="10" rx="3" fill="#adaeb2" stroke="#666" stroke-width="0.8"/>
<rect x="969" y="968" width="10" height="32" fill="#aeafb3" stroke="#666" stroke-width="0.8"/>
<rect x="952.3" y="1007.5" width="36.2" height="20.4" rx="5" fill="#a7a8ac" stroke="#666" stroke-width="0.9"/>
<circle cx="958" cy="1022" r="1.4" fill="#555"/><circle cx="963" cy="1022" r="1.4" fill="#555"/>
<rect x="959" y="1032.4" width="22.7" height="15.8" rx="3" fill="#aaabaf" stroke="#666" stroke-width="0.9"/>
<path d="M945.5,1052 L995.3,1048 L995.3,1080 Q970,1092 947,1082 Z" fill="#a4a5a9" stroke="#666" stroke-width="0.9"/>
<rect x="948" y="1048" width="6" height="18" rx="2.5" fill="#b5b6b9" stroke="#777" stroke-width="0.7"/>
<rect x="968" y="1048" width="6" height="18" rx="2.5" fill="#b5b6b9" stroke="#777" stroke-width="0.7"/>
<rect x="988" y="1048" width="6" height="18" rx="2.5" fill="#b5b6b9" stroke="#777" stroke-width="0.7"/>
<rect x="922" y="1072" width="38" height="6" rx="3" fill="#b0b1b5" stroke="#777" stroke-width="0.6"/>
<line x1="950" y1="1084" x2="951.5" y2="1132" stroke="#87888c" stroke-width="2"/>
<line x1="958" y1="1084" x2="959.5" y2="1132" stroke="#87888c" stroke-width="2"/>
<line x1="966" y1="1084" x2="967.5" y2="1132" stroke="#87888c" stroke-width="2"/>
<line x1="974" y1="1084" x2="975.5" y2="1132" stroke="#87888c" stroke-width="2"/>
<line x1="982" y1="1084" x2="983.5" y2="1132" stroke="#87888c" stroke-width="2"/>
<polygon points="940.0,1100.0 998.0,1098.0 998.0,1132.0 945.0,1132.0" fill="#b3b4b7" opacity="0.6"/>
<rect x="895.7" y="1066" width="18" height="16" rx="6" fill="#adaeb2" stroke="#666" stroke-width="0.9"/>
<rect x="891.2" y="1082" width="22.6" height="23" rx="3" fill="#a9aaae" stroke="#666" stroke-width="0.9"/>
<polygon points="913.0,1070.0 935.0,1062.0 950.0,1068.0 950.0,1080.0 930.0,1082.0 913.0,1085.0" fill="#abacb0" stroke="#666" stroke-width="0.8"/>
<polygon points="789.4,1077.0 893.5,1079.0 891.0,1090.0 800.0,1094.0 789.4,1090.0" fill="#a9aaae" stroke="#666" stroke-width="0.7"/>
<polygon points="823.3,1095.0 893.0,1094.0 923.0,1098.0 925.0,1112.0 900.0,1115.0 890.0,1123.0 830.0,1122.0 823.3,1112.0" fill="#abacb0" stroke="#666" stroke-width="0.7"/>
<circle cx="838" cy="1102.5" r="3" fill="#fff" stroke="#555" stroke-width="0.8"/>
<rect x="846" y="1123" width="140" height="8" rx="4" fill="#b0b1b5" stroke="#666" stroke-width="0.7"/>
<rect x="722" y="1093" width="50" height="3" fill="#a5a6aa"/><rect x="790" y="1114" width="65" height="3" fill="#a5a6aa"/><rect x="724" y="1127" width="52" height="3" fill="#a5a6aa"/>
<polygon points="751.2,904.8 766.4,904.8 778.0,930.0 776.0,937.0 770.0,937.0 763.0,920.6 751.2,920.6 751.2,916.0 755.0,916.0 755.0,909.5 751.2,909.5" fill="#111"/>
<circle cx="759.1" cy="912.7" r="4" fill="#a9aaae"/>
<polygon points="775.3,800.2 948.6,800.2 945.8,1013.2 886.1,1074.4 780.3,1074.4" fill="#505455" stroke="#2a2a2a" stroke-width="1.2" stroke-linejoin="round"/>
<polygon points="775.3,800.2 948.6,800.2 941.5,809.8 782.2,809.8" fill="#5d6063"/>
<polygon points="782.2,809.8 941.5,809.8 939.0,1010.0 884.5,1066.0 786.7,1066.0" fill="#65676b" stroke="#3a3a3a" stroke-width="0.8"/>
<line x1="948.6" y1="800.2" x2="941.5" y2="809.8" stroke="#3a3a3a" stroke-width="0.8"/><line x1="775.3" y1="800.2" x2="782.2" y2="809.8" stroke="#3a3a3a" stroke-width="0.8"/>
<line x1="945.8" y1="1013.2" x2="939" y2="1010" stroke="#3a3a3a" stroke-width="0.8"/><line x1="886.1" y1="1074.4" x2="884.5" y2="1066" stroke="#3a3a3a" stroke-width="0.8"/><line x1="780.3" y1="1074.4" x2="786.7" y2="1066" stroke="#3a3a3a" stroke-width="0.8"/>
<rect x="802" y="822.3" width="47.5" height="212.20000000000005" rx="9" fill="#65676b" stroke="#2c2c2c" stroke-width="1.2"/><rect x="804.2" y="824.5" width="43.1" height="207.80000000000004" rx="7.5" fill="none" stroke="#85878a" stroke-width="1"/><rect x="806" y="826.3" width="39.5" height="204.20000000000005" rx="6" fill="#65676b" stroke="#2c2c2c" stroke-width="0.9"/>
<rect x="862" y="822.5" width="46.5" height="88.10000000000002" rx="9" fill="#65676b" stroke="#2c2c2c" stroke-width="1.2"/><rect x="864.2" y="824.7" width="42.1" height="83.70000000000002" rx="7.5" fill="none" stroke="#85878a" stroke-width="1"/><rect x="866" y="826.5" width="38.5" height="80.10000000000002" rx="6" fill="#65676b" stroke="#2c2c2c" stroke-width="0.9"/>
<rect x="860.4" y="946" width="48.10000000000002" height="88.5" rx="9" fill="#65676b" stroke="#2c2c2c" stroke-width="1.2"/><rect x="862.6" y="948.2" width="43.700000000000024" height="84.1" rx="7.5" fill="none" stroke="#85878a" stroke-width="1"/><rect x="864.4" y="950" width="40.10000000000002" height="80.5" rx="6" fill="#65676b" stroke="#2c2c2c" stroke-width="0.9"/>
<line x1="877" y1="910.6" x2="877" y2="946" stroke="#3a3a3a" stroke-width="0.6"/>
<circle cx="867.5" cy="926.5" r="6.2" fill="#7a7c7e" stroke="#2a2a2a" stroke-width="1"/><circle cx="867.5" cy="926.5" r="3.2" fill="#5a5c5e" stroke="#444" stroke-width="0.6"/>
<polygon points="879.5,898.1 889.5,898.1 884.5,890.6" fill="#a9abad"/>
<polygon points="818.6,1011.9 828.6,1011.9 823.6,1004.4" fill="#a9abad"/>
<polygon points="879.5,1019.9 889.5,1019.9 884.5,1012.4" fill="#a9abad"/>
<circle cx="886" cy="837" r="2" fill="#a9abad"/>
<circle cx="823.6" cy="1019.6" r="2" fill="#a9abad"/>
<rect x="860" y="795" width="17" height="6" fill="#111"/>
<circle cx="868.5" cy="801.7" r="3.4" fill="#c8662a" stroke="#7a3010" stroke-width="0.6"/><circle cx="868.5" cy="801.1" r="1.3" fill="#d02020"/>
<circle cx="778.7" cy="939.5" r="3.4" fill="#c8662a" stroke="#7a3010" stroke-width="0.6"/><circle cx="778.7" cy="938.9" r="1.3" fill="#d02020"/>
<circle cx="778.7" cy="954" r="3.4" fill="#c8662a" stroke="#7a3010" stroke-width="0.6"/><circle cx="778.7" cy="953.4" r="1.3" fill="#d02020"/>
<circle cx="850.8" cy="1072.5" r="3.4" fill="#c8662a" stroke="#7a3010" stroke-width="0.6"/><circle cx="850.8" cy="1071.9" r="1.3" fill="#d02020"/>
<circle cx="862" cy="1072.5" r="3.4" fill="#c8662a" stroke="#7a3010" stroke-width="0.6"/><circle cx="862" cy="1071.9" r="1.3" fill="#d02020"/>
</g>

<g font-family="Liberation Sans" xml:space="preserve">
<text transform="translate(48.05,66.80) scale(0.8640,1)" font-size="22.966" fill="#231f20" stroke="#231f20" stroke-width="0.18">ИНСТРУКЦИЯ ПО УСТАНОВКЕ</text>
<text transform="translate(49.26,92.20) scale(0.9695,1)" font-size="22.529" font-weight="bold" fill="#231f20" stroke="#231f20" stroke-width="0.45">ЗАЩИТА ТОПЛИВНОГО БАКА</text>
<text transform="translate(437.63,91.80) scale(1.1302,1)" font-size="22.239" font-weight="bold" fill="#231f20" stroke="#231f20" stroke-width="0.45">111.0949.1/333.0949.1</text>
<text transform="translate(102.91,167.00) scale(0.8806,1)" font-size="18.750" fill="#231f20" stroke="#231f20" stroke-width="0.18">МАРКА</text>
<text transform="translate(254.67,167.00) scale(0.9060,1)" font-size="18.750" fill="#231f20" stroke="#231f20" stroke-width="0.18">МОДЕЛЬ</text>
<text transform="translate(432.19,155.80) scale(0.9620,1)" font-size="18.750" fill="#231f20" stroke="#231f20" stroke-width="0.18">ГОД</text>
<text transform="translate(410.33,175.40) scale(0.8702,1)" font-size="18.750" fill="#231f20" stroke="#231f20" stroke-width="0.18">ВЫПУСКА</text>
<text transform="translate(580.93,155.60) scale(0.8809,1)" font-size="18.750" fill="#231f20" stroke="#231f20" stroke-width="0.18">ОБЪЕМ</text>
<text transform="translate(562.40,175.40) scale(0.9065,1)" font-size="18.750" fill="#231f20" stroke="#231f20" stroke-width="0.18">ДВИГАТЕЛЯ</text>
<text transform="translate(734.53,166.90) scale(0.9168,1)" font-size="18.750" fill="#231f20" stroke="#231f20" stroke-width="0.18">ТИП КПП</text>
<text transform="translate(913.43,155.70) scale(0.9059,1)" font-size="18.750" fill="#231f20" stroke="#231f20" stroke-width="0.18">ТИП</text>
<text transform="translate(890.23,175.30) scale(0.8696,1)" font-size="18.750" fill="#231f20" stroke="#231f20" stroke-width="0.18">ПРИВОДА</text>
<text transform="translate(103.94,211.80) scale(0.8988,1)" font-size="18.750" fill="#231f20" stroke="#231f20" stroke-width="0.18">Jaecoo</text>
<text transform="translate(285.73,211.00) scale(0.9067,1)" font-size="18.750" fill="#231f20" stroke="#231f20" stroke-width="0.18">J8</text>
<text transform="translate(436.53,210.60) scale(0.8794,1)" font-size="18.750" fill="#231f20" stroke="#231f20" stroke-width="0.18">2024</text>
<text transform="translate(597.18,211.80) scale(0.9304,1)" font-size="18.750" fill="#231f20" stroke="#231f20" stroke-width="0.18">2.0</text>
<text transform="translate(748.96,210.50) scale(0.9159,1)" font-size="18.750" fill="#231f20" stroke="#231f20" stroke-width="0.18">Робот</text>
<text transform="translate(896.75,211.50) scale(0.8535,1)" font-size="18.750" fill="#231f20" stroke="#231f20" stroke-width="0.18">ПОЛНЫЙ</text>
<text transform="translate(456.49,288.00) scale(0.9778,1)" font-size="18.460" fill="#231f20" stroke="#231f20" stroke-width="0.18">Кронштейн 3</text>
<text transform="translate(777.77,277.80) scale(0.9899,1)" font-size="18.460" fill="#231f20" stroke="#231f20" stroke-width="0.18">Шайба 8</text>
<text transform="translate(777.83,297.00) scale(0.9503,1)" font-size="18.460" fill="#231f20" stroke="#231f20" stroke-width="0.18">Болт М8х16</text>
<text transform="translate(287.49,328.80) scale(0.9768,1)" font-size="18.460" fill="#231f20" stroke="#231f20" stroke-width="0.18">Кронштейн 2</text>
<text transform="translate(409.57,361.40) scale(0.9629,1)" font-size="18.460" fill="#231f20" stroke="#231f20" stroke-width="0.18">Экран</text>
<text transform="translate(210.10,494.70) scale(0.9702,1)" font-size="18.460" fill="#231f20" stroke="#231f20" stroke-width="0.18">Шайба 8</text>
<text transform="translate(210.15,514.20) scale(0.9393,1)" font-size="18.460" fill="#231f20" stroke="#231f20" stroke-width="0.18">Болт М8х16</text>
<text transform="translate(704.00,618.80) scale(0.9275,1)" font-size="18.460" fill="#231f20" stroke="#231f20" stroke-width="0.18">Демпфер</text>
<text transform="translate(148.50,661.80) scale(0.9722,1)" font-size="18.460" fill="#231f20" stroke="#231f20" stroke-width="0.18">Кронштейн 1</text>
<text transform="translate(250.80,714.10) scale(0.9674,1)" font-size="18.460" fill="#231f20" stroke="#231f20" stroke-width="0.18">Шайба 8</text>
<text transform="translate(250.83,734.00) scale(0.9523,1)" font-size="18.460" fill="#231f20" stroke="#231f20" stroke-width="0.18">Болт М8х16</text>
<text transform="translate(195.40,1155.00) scale(0.8962,1)" font-size="18.605" fill="#231f20" stroke="#231f20" stroke-width="0.18">Рис.1</text>
<text transform="translate(539.27,1155.60) scale(0.9188,1)" font-size="18.460" fill="#231f20" stroke="#231f20" stroke-width="0.18">Рис.2</text>
<text transform="translate(853.88,1153.90) scale(0.9194,1)" font-size="18.314" fill="#231f20" stroke="#231f20" stroke-width="0.18">Рис.3</text>
<text transform="translate(50.38,1194.80) scale(1.0196,1)" font-size="14.390" font-weight="bold" fill="#231f20">Инструкция по установке:</text>
<text transform="translate(50.30,1229.30) scale(1.0141,1)" font-size="15.843" fill="#231f20">1. Ослабить штатный крепёж в позициях (А) (рис.1).</text>
<text transform="translate(50.55,1246.60) scale(1.0123,1)" font-size="15.843" fill="#231f20">2. Завести кронштейны открытыми пазами на ослабленный крепёж</text>
<text transform="translate(50.54,1263.90) scale(1.0237,1)" font-size="15.843" fill="#231f20">(А).</text>
<text transform="translate(50.80,1281.60) scale(1.0118,1)" font-size="15.843" fill="#231f20">3. Установить защиту на установленные кронштейны. Закрепить</text>
<text transform="translate(50.55,1299.40) scale(1.0123,1)" font-size="15.843" fill="#231f20">болтами М8х16 с шайбами 8 в позициях (Б) (рис.2 )</text>
<text transform="translate(51.05,1317.00) scale(1.0138,1)" font-size="15.843" fill="#231f20">4. Затянуть все резьбовые соединения с необходимым усилием.</text>
<text transform="translate(69.05,1335.30) scale(1.0138,1)" font-size="15.843" fill="#231f20">Использование пневмоинструмента запрещено.</text>
<text transform="translate(633.74,1197.30) scale(0.9464,1)" font-size="18.896" font-weight="bold" fill="#231f20">Состав изделия:</text>
<text transform="translate(656.00,1228.80) scale(0.9632,1)" font-size="18.605" fill="#231f20">Наименование</text>
<text transform="translate(801.08,1228.80) scale(0.9759,1)" font-size="18.605" fill="#231f20">Кол-во</text>
<text transform="translate(875.29,1228.80) scale(0.9679,1)" font-size="18.605" fill="#231f20">Момент затяжки</text>
<text transform="translate(690.45,1256.90) scale(1.0000,1)" font-size="16.425" fill="#231f20">Болт М8х16</text>
<text transform="translate(812.28,1256.90) scale(1.0000,1)" font-size="16.425" fill="#231f20">5 шт</text>
<text transform="translate(708.74,1274.76) scale(1.0000,1)" font-size="16.425" fill="#231f20">Демпфер</text>
<text transform="translate(812.28,1274.76) scale(1.0000,1)" font-size="16.425" fill="#231f20">1 шт</text>
<text transform="translate(682.47,1292.62) scale(1.0000,1)" font-size="16.425" fill="#231f20">Кронштейн 1</text>
<text transform="translate(812.28,1292.62) scale(1.0000,1)" font-size="16.425" fill="#231f20">1 шт</text>
<text transform="translate(682.47,1310.48) scale(1.0000,1)" font-size="16.425" fill="#231f20">Кронштейн 2</text>
<text transform="translate(812.28,1310.48) scale(1.0000,1)" font-size="16.425" fill="#231f20">1 шт</text>
<text transform="translate(682.47,1328.34) scale(1.0000,1)" font-size="16.425" fill="#231f20">Кронштейн 3</text>
<text transform="translate(812.28,1328.34) scale(1.0000,1)" font-size="16.425" fill="#231f20">1 шт</text>
<text transform="translate(735.08,1346.20) scale(1.0000,1)" font-size="16.425" fill="#231f20">Экран</text>
<text transform="translate(812.28,1346.20) scale(1.0000,1)" font-size="16.425" fill="#231f20">1 шт</text>
<text transform="translate(715.74,1364.06) scale(1.0000,1)" font-size="16.425" fill="#231f20">Шайба 8</text>
<text transform="translate(812.28,1364.06) scale(1.0000,1)" font-size="16.425" fill="#231f20">5 шт</text>
<text transform="translate(914.18,1259.50) scale(1.0681,1)" font-size="16.425" fill="#231f20">24 Нм</text>
<text transform="translate(49.91,1424.60) scale(0.9410,1)" font-size="18.896" fill="#231f20" stroke="#231f20" stroke-width="0.18">Производитель вправе вносить изменения в конструкцию защиты.</text>
<text transform="translate(51.02,1445.80) scale(0.9315,1)" font-size="18.896" fill="#231f20" stroke="#231f20" stroke-width="0.18">Техническая поддержка:</text>
<text transform="translate(267.05,1445.80) scale(0.9357,1)" font-size="18.896" fill="#231f20" stroke="#231f20" stroke-width="0.18">e-mail:</text>
<text transform="translate(327.02,1445.80) scale(0.9823,1)" font-size="18.896" font-weight="bold" fill="#3d2f8c" stroke="#3d2f8c" stroke-width="0.18">supp@rivalauto.com</text>
<text transform="translate(509.62,1445.80) scale(1.6088,1)" font-size="18.896" fill="#3d2f8c">;</text>
<text transform="translate(522.13,1445.80) scale(0.9113,1)" font-size="18.896" fill="#231f20" stroke="#231f20" stroke-width="0.18">Телефон</text>
<text transform="translate(591.30,1445.80) scale(1.5242,1)" font-size="18.896" font-weight="bold" fill="#231f20" stroke="#231f20" stroke-width="0.18">:</text>
<text transform="translate(604.85,1445.80) scale(1.1059,1)" font-size="18.896" font-weight="bold" fill="#231f20" stroke="#231f20" stroke-width="0.3">8-800-555-60-43</text>
</g>
</svg>
</body></html>
